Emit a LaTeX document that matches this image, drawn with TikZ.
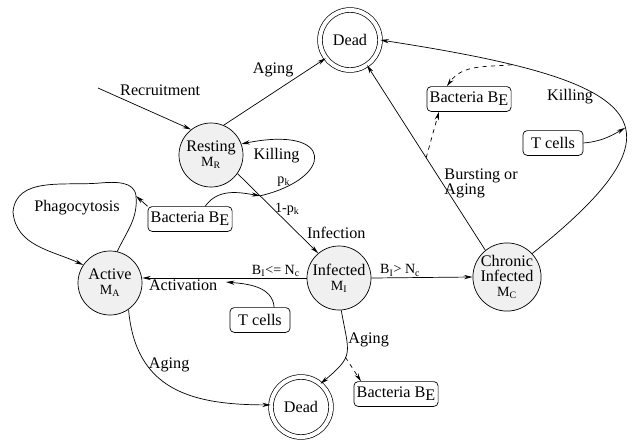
\documentclass[tikz,border=0pt]{standalone}
\usepackage{fontspec}
\setmainfont{Liberation Serif}
\usetikzlibrary{arrows.meta}

\begin{document}
\begin{tikzpicture}[
    x=0.025cm, y=0.025cm, line width=0.5pt,
    every node/.style={anchor=center, font=\fontsize{11.5}{12}\selectfont},
    cell/.style={circle, draw, fill=gray!12, minimum size=1.6cm, inner sep=0pt, align=center, font=\fontsize{11.5}{10.5}\selectfont},
    dead/.style={circle, draw, double, double distance=0.1cm, minimum size=1.5cm, inner sep=0pt},
    source/.style={draw, rounded corners=3pt, minimum height=0.62cm, inner sep=2pt},
    lbl/.style={inner sep=1pt},
    note/.style={inner sep=1pt, font=\fontsize{10}{10}\selectfont},
    arrow/.style={-{Stealth[length=6pt, width=3pt]}}
    ]

\useasboundingbox (0,0) rectangle (632,-443);

% Cell states
\node[cell] (Resting) at (211,-155) {Resting\\{\fontsize{10}{10}\selectfont M\textsubscript{R}}};
\node[cell] (Active) at (110,-283) {Active\\{\fontsize{10}{10}\selectfont M\textsubscript{A}}};
\node[cell] (Infected) at (339,-278) {Infected\\{\fontsize{10}{10}\selectfont M\textsubscript{I}}};
\node[cell] (Chronic) at (507,-277) {Chronic\\Infected\\{\fontsize{10}{10}\selectfont M\textsubscript{C}}};
\node[dead] (Dead Top) at (350,-40) {Dead};
\node[dead] (Dead Bottom) at (301,-407) {Dead};

% Bacteria and T cells
\node[source] (Bacteria Top) at (469,-99) {Bacteria B\raisebox{-0.4ex}{E}};
\node[source, minimum width=1.5cm] (T cells Right) at (553,-143) {T cells};
\node[source] (Bacteria Left) at (190,-219) {Bacteria B\raisebox{-0.4ex}{E}};
\node[source, minimum width=1.5cm] (T cells Left) at (260,-320) {T cells};
\node[source] (Bacteria Bottom) at (396,-394) {Bacteria B\raisebox{-0.4ex}{E}};

% Resting cells
\coordinate (Recruit) at (98,-88);
\draw[arrow] (Recruit) to node[lbl, pos=0.22, anchor=south west] (Recruitment) {Recruitment} (Resting.128);
\draw[arrow] (Resting.67) to node[lbl, pos=0.7, anchor=south east] (Aging Resting) {Aging} (Dead Top.217);
\draw[arrow] (Resting.-35) to node[coordinate, pos=0.28] (Kill Joint) {}
    node[note, pos=0.445, anchor=west] (Escape) {1-p\textsubscript{k}}
    node[lbl, pos=0.84, anchor=south west] (Infection) {Infection} (Infected.130);
\draw[arrow] (Bacteria Left.40) to[out=55, in=170] (Kill Joint);
\draw[arrow] (Kill Joint) .. controls (335,-178) and (335,-125) .. (Resting.20)
    node[lbl, pos=0.5, anchor=east, xshift=-9pt] (Killing Resting) {Killing}
    node[note, pos=0.12, anchor=south] (Kill Prob) {p\textsubscript{k}};

% Active cells
\draw[arrow] (Active.77) to[out=65, in=-85] (136,-196) coordinate (Phago Joint)
    to[out=95, in=5] (100,-183) to[out=185, in=85] (13,-212) to[out=-85, in=155] (Active.146);
\node[lbl] (Phagocytosis) at (77,-208) {Phagocytosis};
\draw[arrow] (Bacteria Left.north west) to (Phago Joint);
\draw[arrow] (Infected.west) to node[note, pos=0.03, anchor=south east] (Low Load) {B\textsubscript{I}<= N\textsubscript{c}}
    node[lbl, pos=0.97, anchor=north west] (Activation) {Activation} (Infected.west -| Active.east);
\coordinate (Act Joint) at (226,-282);
\draw[arrow] (T cells Left.42) to[out=95, in=-5] (Act Joint);
\draw[arrow] (Active.-55) to[out=-85, in=180, looseness=1.2] node[lbl, pos=0.3, anchor=west] (Aging Active) {Aging} (Dead Bottom.176);

% Infected cells
\draw[arrow] (Infected.east) to node[note, pos=0.07, anchor=south west] (High Load) {B\textsubscript{I}> N\textsubscript{c}} (Chronic.west);
\draw[arrow] (Infected.-86) to[out=-80, in=40, looseness=1.5] node[coordinate, pos=0.58] (Bact Bottom Joint) {}
    node[lbl, pos=0.3, anchor=west] (Aging Infected) {Aging} (Dead Bottom.50);
\draw[arrow, dashed] (Bact Bottom Joint) to (Bacteria Bottom.160);

% Chronic infected cells
\draw[arrow] (Chronic.129) to node[coordinate, pos=0.5] (Burst Joint) {}
    node[lbl, pos=0.36, anchor=west, align=left, font=\fontsize{11.5}{10.5}\selectfont] (Bursting) {Bursting or\\Aging} (Dead Top.-56);
\draw[arrow, dashed] (Burst Joint) to (Bacteria Top.-157);
\draw[arrow] (Chronic.43) .. controls (700,-120) and (640,-80) .. (Dead Top.east)
    node[coordinate, pos=0.42] (Kill Top Joint) {}
    node[coordinate, pos=0.8] (Bact Top Joint) {};
\node[lbl] (Killing Chronic) at (570,-97) {Killing};
\draw[arrow] (T cells Right.east) to[out=5, in=-150] (Kill Top Joint);
\draw[arrow, dashed] (Bact Top Joint) to[out=185, in=55] (Bacteria Top.150);

\end{tikzpicture}
\end{document}
